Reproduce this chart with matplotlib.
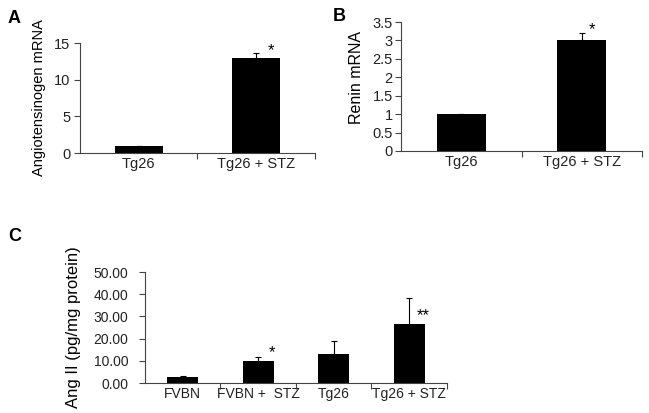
import matplotlib
matplotlib.use("Agg")
import matplotlib.pyplot as plt

plt.rcParams['font.family'] = ['Liberation Sans', 'DejaVu Sans']

# panel A
a_groups = ['Tg26', 'Tg26 + STZ']
a_values = [1.0, 13.0]
a_err = [0.0, 0.6]
a_stars = ['', '*']

# panel B
b_groups = ['Tg26', 'Tg26 + STZ']
b_values = [1.0, 3.0]
b_err = [0.0, 0.2]
b_stars = ['', '*']

# panel C
c_groups = ['FVBN', 'FVBN +  STZ', 'Tg26', 'Tg26 + STZ']
c_values = [2.5, 9.9, 13.1, 26.6]
c_err = [0.8, 1.8, 5.8, 11.8]
c_stars = ['', '*', '', '**']


def bar_panel(ax, groups, values, err, stars, star_y, star_dx,
              ylim, yticks, ylabels, fs, ypad):
    x = list(range(len(groups)))
    ax.bar(x, values, width=0.41, color='black', zorder=2)
    ax.errorbar(x, values, yerr=[[0] * len(err), err], fmt='none',
                ecolor='black', elinewidth=0.8, capsize=2.5, capthick=0.8, zorder=3)
    for xi, s, sy in zip(x, stars, star_y):
        if s:
            ax.annotate(s, (xi + star_dx, sy), xytext=(0, -7), textcoords='offset points',
                        ha='center', va='baseline', fontsize=12)
    ax.set_xlim(-0.5, len(groups) - 0.5)
    ax.set_ylim(*ylim)
    ax.set_yticks(yticks)
    ax.set_yticklabels(ylabels, fontsize=fs, color='#222222')
    # category labels in the middle, ticks on the boundaries
    ax.set_xticks([i + 0.5 for i in range(len(groups))])
    ax.set_xticklabels([])
    ax.set_xticks(x, minor=True)
    ax.set_xticklabels(groups, minor=True, fontsize=fs, color='#222222')
    ax.tick_params(axis='x', which='minor', length=0, pad=3)
    ax.tick_params(axis='x', which='major', length=4, width=0.8, direction='out',
                   color='#444444')
    ax.tick_params(axis='y', length=4, width=0.8, direction='out', pad=ypad,
                   color='#444444')
    for side in ['top', 'right']:
        ax.spines[side].set_visible(False)
    for side in ['left', 'bottom']:
        ax.spines[side].set_linewidth(0.8)
        ax.spines[side].set_color('#444444')


fig = plt.figure(figsize=(6.49, 4.13), dpi=100)

axA = fig.add_axes([0.1233, 0.6295, 0.362, 0.2663])
bar_panel(axA, a_groups, a_values, a_err, a_stars, [0, 14.7], 0.125,
          (0, 15), [0, 5, 10, 15], ['0', '5', '10', '15'], 10.5, 3)
axA.set_ylabel('Angiotensinogen mRNA', fontsize=10.5)
axA.yaxis.set_label_coords(-0.145, 0.5)

axB = fig.add_axes([0.6179, 0.6344, 0.3713, 0.3123])
bar_panel(axB, b_groups, b_values, b_err, b_stars, [0, 3.43], 0.083,
          (0, 3.5), [0, 0.5, 1, 1.5, 2, 2.5, 3, 3.5],
          ['0', '0.5', '1', '1.5', '2', '2.5', '3', '3.5'], 10.5, 2)
axB.set_ylabel('Renin mRNA', fontsize=11.5)
axB.yaxis.set_label_coords(-0.154, 0.57)

axC = fig.add_axes([0.2234, 0.0726, 0.4653, 0.2688])
bar_panel(axC, c_groups, c_values, c_err, c_stars, [0, 15.9, 0, 32.9], 0.18,
          (0, 50), [0, 10, 20, 30, 40, 50],
          ['0.00', '10.00', '20.00', '30.00', '40.00', '50.00'], 10, 8)
axC.set_ylabel('Ang II (pg/mg protein)', fontsize=12)
axC.yaxis.set_label_coords(-0.212, 0.5)

fig.text(0.012, 0.976, 'A', fontsize=13, fontweight='bold', va='top')
fig.text(0.513, 0.981, 'B', fontsize=13, fontweight='bold', va='top')
fig.text(0.012, 0.448, 'C', fontsize=13, fontweight='bold', va='top')

fig.savefig('out.png', dpi=100)
